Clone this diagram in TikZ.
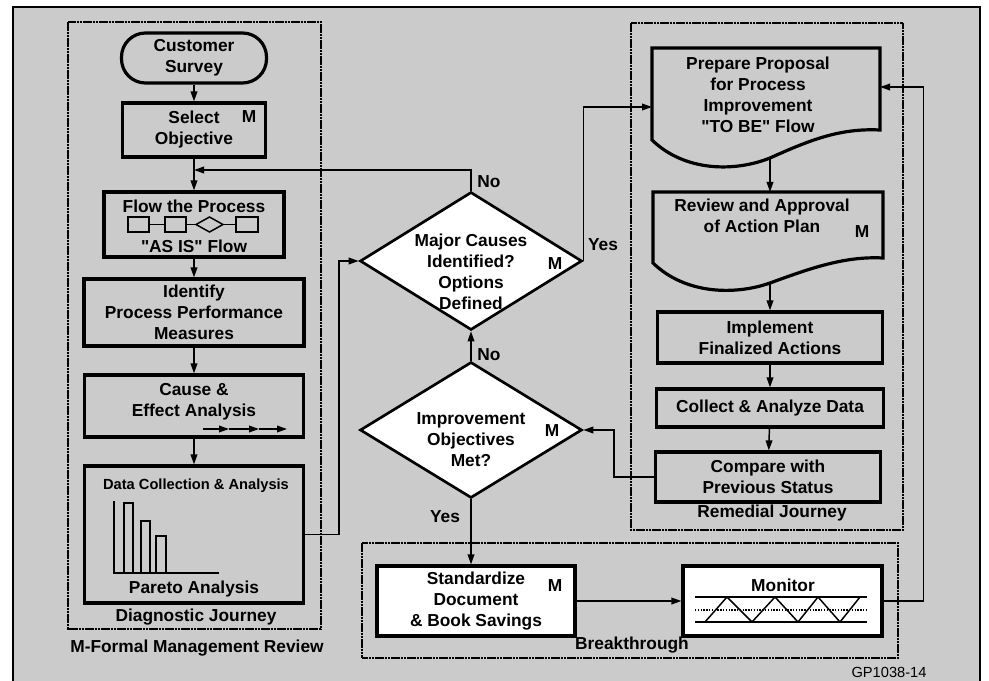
\documentclass[tikz,border=0pt]{standalone}
\usepackage{fontspec}
\setmainfont{Liberation Sans}
\usetikzlibrary{positioning}
\usetikzlibrary{shapes.geometric}
\usetikzlibrary{calc}
\usetikzlibrary{arrows.meta}
\definecolor{scan}{RGB}{203,203,203}
\tikzset{
    txt/.style = {font=\fontsize{13}{15.75}\selectfont\bfseries, align=center, inner sep=0pt},
    box/.style = {rectangle, draw, line width=2.4pt, fill=scan, txt},
    whitebox/.style = {box, fill=white},
    terminal/.style = {box, rounded corners=18pt},
    decision/.style = {diamond, draw, line width=2pt, fill=white, inner sep=0pt},
    journey/.style = {draw, line width=2pt, dash pattern=on 2pt off 0.4pt},
    conn/.style = {line width=1.1pt, -{Triangle[length=7.5pt,width=5pt]}},
    fine/.style = {line width=1.1pt}}

\begin{document}
\begin{tikzpicture}[x=0.75pt,y=-0.75pt]
        \useasboundingbox (0,0) rectangle (989,681);
        \fill[scan] (12,7) rectangle (981,681);
        \draw[line width=1.5pt] (13,681) -- (13,7) -- (980,7) -- (980,681);
        \draw[journey] (68,22) rectangle (321,629);
        \draw[journey] (631,23) rectangle (903,530);
        \draw[journey] (362,543) rectangle (898,658);

        \node[terminal, minimum width=108.75pt, minimum height=37.5pt] (survey) at (194,58) {Customer\\Survey};
        \node[box, minimum width=107.25pt, minimum height=40.5pt] (select) at (194,130) {Select\\Objective};
        \node[txt] (selm) at (249,117) {M};
        \node[box, minimum width=135pt, minimum height=48.75pt] (flow) at (194,224.5) {};
        \node[txt] (flowt) at (194,206) {Flow the Process};
        \node[txt] (flowb) at (194,246) {\textquotedbl AS IS\textquotedbl\ Flow};
        \foreach \xa/\xb in {128/149,165/186,236/258}
            \draw[fine] (\xa,217) rectangle (\xb,232);
        \draw[fine] (196,224.5) -- (209.5,217) -- (223,224.5) -- (209.5,232) -- cycle;
        \draw[fine] (149,224.5) -- (165,224.5) (186,224.5) -- (196,224.5) (223,224.5) -- (236,224.5);
        \node[box, minimum width=165pt, minimum height=50.25pt] (ident) at (194,312.5) {Identify\\Process Performance\\Measures};
        \node[box, minimum width=164.25pt, minimum height=46.5pt] (cause) at (194,406) {};
        \node[txt] (causet) at (194,402) {Cause \&\\Effect Analysis};
        \foreach \xa/\xb in {203/229,229/259,259/287}
            \draw[conn] (\xa,429) -- (\xb,429);
        \node[box, minimum width=164.25pt, minimum height=102.75pt] (data) at (194,534.5) {};
        \node[txt, font=\fontsize{11}{13}\selectfont\bfseries] (datat) at (196,486) {Data Collection \& Analysis};
        \node[txt] (pareto) at (194,589) {Pareto Analysis};
        \draw[fine] (114,501) -- (114,573) -- (219,573);
        \foreach \xa/\xb/\yt in {124/133/503,141/150/521,156/166/536}
            \draw[fine] (\xa,573) -- (\xa,\yt) -- (\xb,\yt) -- (\xb,573);
        \node[txt] (diag) at (196,617) {Diagnostic Journey};
        \node[txt] (mfr) at (197,648) {M-Formal Management Review};

        \node[decision, minimum width=166.5pt, minimum height=103.5pt] (major) at (471,261) {};
        \node[txt] (majort) at (471,271.5) {Major Causes\\Identified?\\Options\\Defined};
        \node[txt] (majorm) at (555,264) {M};
        \node[decision, minimum width=166.5pt, minimum height=102pt] (improve) at (471,430) {};
        \node[txt] (improvet) at (471,440) {Improvement\\Objectives\\Met?};
        \node[txt] (improvem) at (552,431) {M};
        \node[txt] (no1) at (489,182) {No};
        \node[txt] (yes1) at (603,245) {Yes};
        \node[txt] (no2) at (489,355) {No};
        \node[txt] (yes2) at (445,517) {Yes};

        \draw[line width=2.4pt] (652,140) -- (652,48) -- (880,48) -- (880,130) .. controls (840,128) and (810,140) .. (770,158) .. controls (735,172) and (685,172) .. (652,140) -- cycle;
        \node[txt] (prep) at (758,95) {Prepare Proposal\\for Process\\Improvement\\\textquotedbl TO BE\textquotedbl\ Flow};
        \coordinate (prepin) at (652,107);
        \coordinate (prepout) at (770,158);
        \coordinate (prepback) at (880,87);
        \draw[line width=2.4pt] (653,263) -- (653,192) -- (883,192) -- (883,258) .. controls (845,256) and (811,268) .. (770,283) .. controls (736,295) and (686,295) .. (653,263) -- cycle;
        \node[txt] (rev) at (762,216) {Review and Approval\\of Action Plan};
        \node[txt] (revm) at (862,232) {M};
        \coordinate (revtop) at (770,192);
        \coordinate (revout) at (770,283);
        \node[box, minimum width=168.75pt, minimum height=38.25pt] (impl) at (770,337.5) {Implement\\Finalized Actions};
        \node[box, minimum width=170.25pt, minimum height=28.5pt] (coll) at (770,408) {Collect \& Analyze Data};
        \node[box, minimum width=168.75pt, minimum height=37.5pt] (cmp) at (768,477) {Compare with\\Previous Status};
        \node[txt] (rem) at (772,513) {Remedial Journey};

        \node[whitebox, minimum width=148.5pt, minimum height=52.5pt] (std) at (476,601) {Standardize\\Document\\\& Book Savings};
        \node[txt] (stdm) at (555,586) {M};
        \node[whitebox, minimum width=149.25pt, minimum height=52.5pt] (mon) at (782.5,601) {};
        \node[txt] (mont) at (783,585) {Monitor};
        \draw[fine] (695,597) -- (867,597) (695,622) -- (867,622);
        \draw[fine, densely dotted] (695,610) -- (867,610);
        \draw[fine] (705,622) -- (727,597) -- (752,622) -- (775,597) -- (798,622) -- (818,597) -- (840,622) -- (860,597);
        \node[txt] (brk) at (632,645) {Breakthrough};
        \node[font=\fontsize{11}{13}\selectfont, inner sep=0pt] (gp) at (889,672) {GP1038-14};

        \coordinate (join) at (194,170);
        \draw[conn] (survey) -- (select);
        \draw[conn] (select) -- (flow);
        \draw[conn] (flow) -- (ident);
        \draw[conn] (ident) -- (cause);
        \draw[conn] (cause) -- (data);
        \draw[conn] (major.north) |- (join);
        \draw[conn] (data.east) -- ++(34,0) |- (major.west);
        \draw[conn] (major.east) |- (prepin);
        \draw[conn] (improve.north) -- (major.south);
        \draw[conn] (cmp.west) -- ++(-40,0) |- (improve.east);
        \draw[conn] (improve.south) -- (improve.south |- std.north);
        \draw[conn] (std.east) -- (mon.west);
        \draw[conn] (mon.east) -- ++(40,0) |- (prepback);
        \draw[conn] (prepout) -- (revtop);
        \draw[conn] (revout) -- (impl);
        \draw[conn] (impl) -- (coll);
        \draw[conn] (coll) -- (cmp);
\end{tikzpicture}
\end{document}
